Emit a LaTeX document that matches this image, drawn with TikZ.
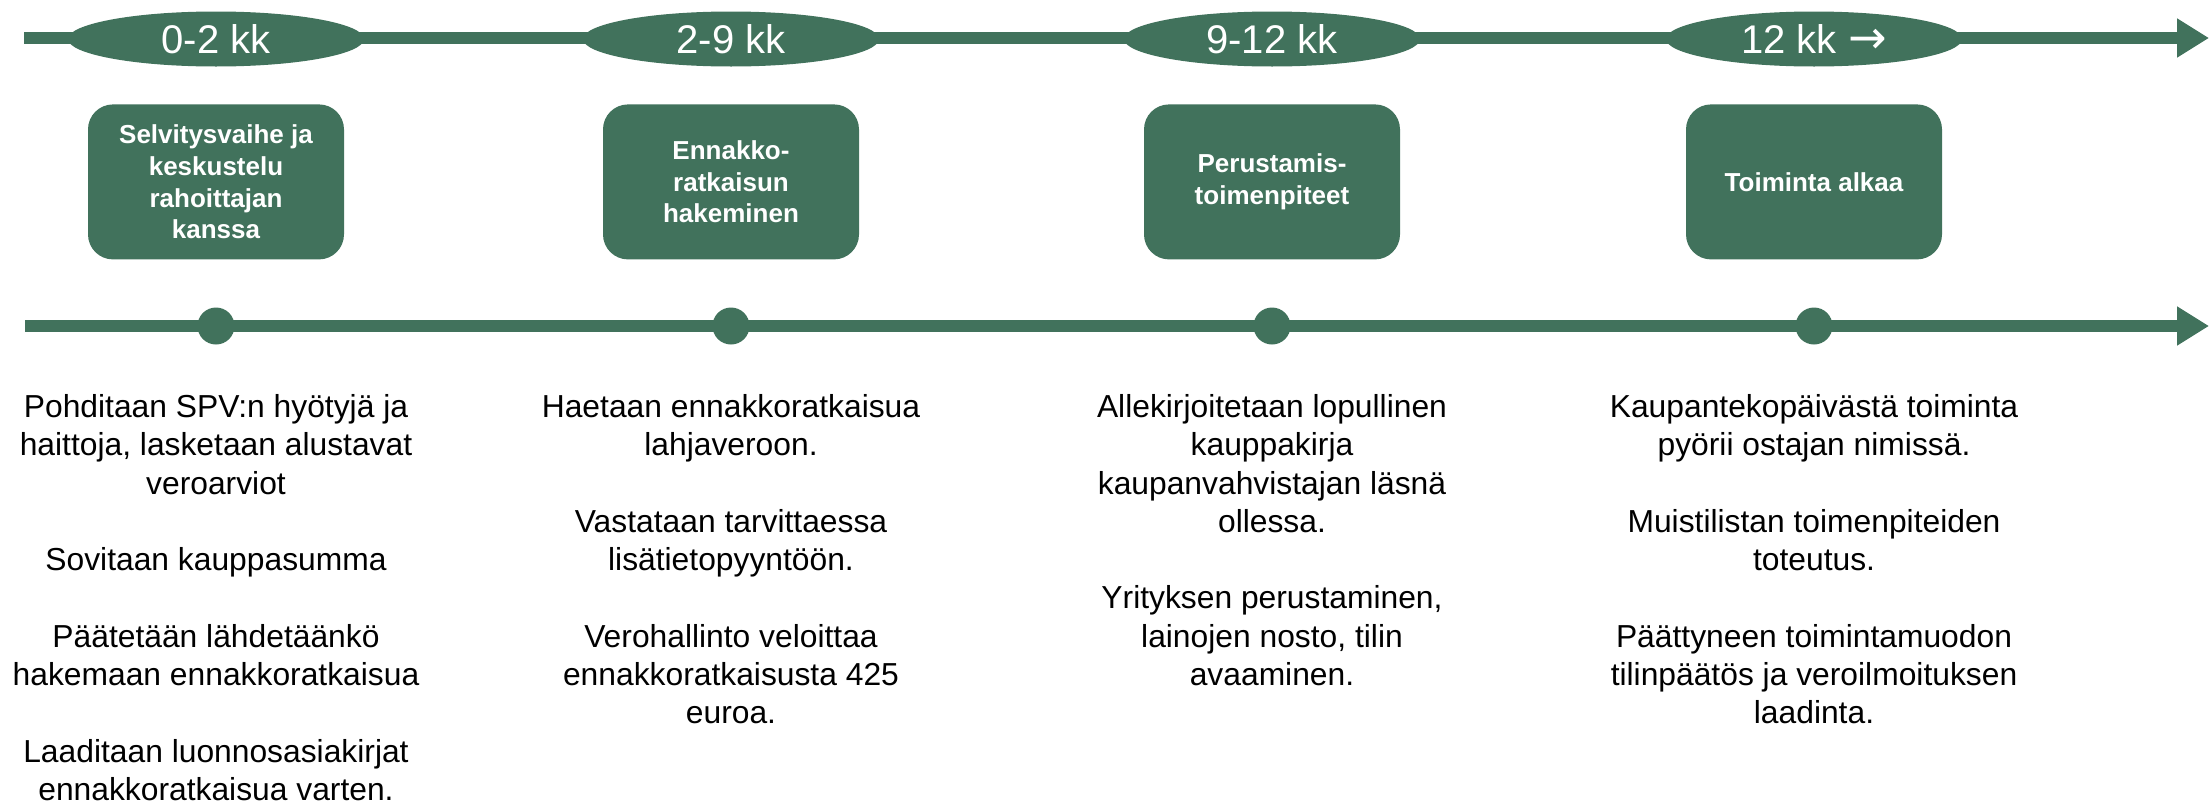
\documentclass[tikz,border=0pt]{standalone}
\usepackage{fontspec}
\setmainfont{Liberation Sans}
\newfontfamily\arrowfont{DejaVu Sans}
\usepackage{xcolor}
\usetikzlibrary{arrows.meta,positioning}
\usetikzlibrary{shapes.geometric, backgrounds}
\definecolor{phasegreen}{HTML}{41725C}

\begin{document}
\begin{tikzpicture}[
        x=1pt, y=-1pt,
        phase/.style={ellipse, fill=phasegreen, text=white, minimum width=296pt, minimum height=55pt, inner sep=0pt, font=\fontsize{40}{48}\selectfont},
        task/.style={fill=phasegreen, text=white, rounded corners=25pt, minimum width=256pt, minimum height=155pt, align=center, inner sep=0pt, font=\bfseries\fontsize{26}{31.7}\selectfont},
        tickdot/.style={circle, fill=phasegreen, minimum size=37pt, inner sep=0pt},
        notes/.style={align=center, inner sep=0pt, font=\fontsize{31.8}{38.3}\selectfont},
        timeline/.style={-{Triangle[length=32pt, width=37pt]}, line width=12pt, phasegreen},
        node distance=37.5pt
    ]
    \useasboundingbox (0,0) rectangle (2209,806);

    % Period Nodes
    \node[phase] (p1) at (216,39) {0-2 kk};
    \node[phase] (p2) at (731,39) {2-9 kk};
    \node[phase] (p3) at (1272,39) {9-12 kk};
    \node[phase] (p4) at (1814,39) {12 kk {\arrowfont\fontsize{46}{48}\selectfont →}};

    % Task Nodes
    \node[task, below=of p1] (t1) {Selvitysvaihe ja\\keskustelu\\rahoittajan\\kanssa};
    \node[task, below=of p2] (t2) {Ennakko-\\ratkaisun\\hakeminen};
    \node[task, below=of p3] (t3) {Perustamis-\\toimenpiteet};
    \node[task, below=of p4] (t4) {Toiminta alkaa};

    % Dots on the lower line
    \node[tickdot] (d1) at (216,326) {};
    \node[tickdot] (d2) at (731,326) {};
    \node[tickdot] (d3) at (1272,326) {};
    \node[tickdot] (d4) at (1814,326) {};

    % Notes
    \node[notes, below=49.5pt of d1] (n1) {Pohditaan SPV:n hyötyjä ja\\haittoja, lasketaan alustavat\\veroarviot\\[38.3pt]Sovitaan kauppasumma\\[38.3pt]Päätetään lähdetäänkö\\hakemaan ennakkoratkaisua\\[38.3pt]Laaditaan luonnosasiakirjat\\ennakkoratkaisua varten.};
    \node[notes, below=49.5pt of d2] (n2) {Haetaan ennakkoratkaisua\\lahjaveroon.\\[38.3pt]Vastataan tarvittaessa\\lisätietopyyntöön.\\[38.3pt]Verohallinto veloittaa\\ennakkoratkaisusta 425\\euroa.};
    \node[notes, below=49.5pt of d3] (n3) {Allekirjoitetaan lopullinen\\kauppakirja\\kaupanvahvistajan läsnä\\ollessa.\\[38.3pt]Yrityksen perustaminen,\\lainojen nosto, tilin\\avaaminen.};
    \node[notes, below=49.5pt of d4] (n4) {Kaupantekopäivästä toiminta\\pyörii ostajan nimissä.\\[38.3pt]Muistilistan toimenpiteiden\\toteutus.\\[38.3pt]Päättyneen toimintamuodon\\tilinpäätös ja veroilmoituksen\\laadinta.};

    % Lines
    \coordinate (topstart) at (24,38);
    \coordinate (topend) at (2209,38);
    \coordinate (lowstart) at (25,326);
    \coordinate (lowend) at (2209,326);
    \begin{scope}[on background layer]
        \draw[timeline] (topstart) -- (topend);
        \draw[timeline] (lowstart) -- (lowend);
    \end{scope}

\end{tikzpicture}
\end{document}
